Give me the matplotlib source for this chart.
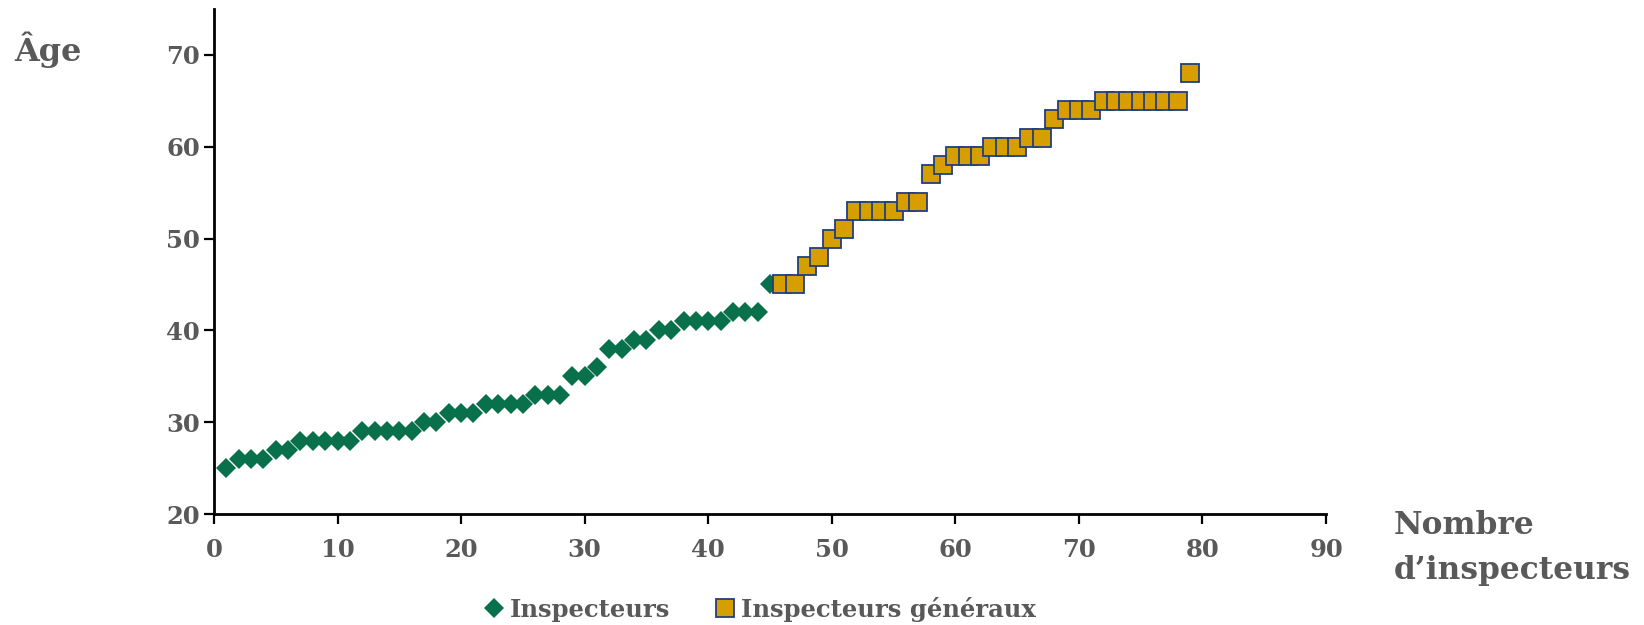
import numpy as np
import matplotlib
matplotlib.use("Agg")
import matplotlib.pyplot as plt

# Inspecteurs (rang, âge)
insp_x = list(range(1, 46))
insp_age = [25, 26, 26, 26, 27, 27, 28, 28, 28, 28, 28, 29, 29, 29, 29, 29,
            30, 30, 31, 31, 31, 32, 32, 32, 32, 33, 33, 33, 35, 35, 36, 38,
            38, 39, 39, 40, 40, 41, 41, 41, 41, 42, 42, 42, 45]

# Inspecteurs généraux
ig_x = list(range(46, 80))
ig_age = [45, 45, 47, 48, 50, 51, 53, 53, 53, 53, 54, 54, 57, 58, 59, 59, 59,
          60, 60, 60, 61, 61, 63, 64, 64, 64, 65, 65, 65, 65, 65, 65, 65, 68]

xticks = list(range(0, 100, 10))
yticks = list(range(20, 80, 10))

grey = "#595959"
green = "#08704A"
gold = "#D79E00"
navy = "#1F3F7F"

plt.rcParams['font.family'] = ['DejaVu Serif']
plt.rcParams['font.weight'] = 'bold'

fig = plt.figure(figsize=(16.44, 6.25), dpi=100)
ax = fig.add_axes([214 / 1644, 1 - 514 / 625, (1326 - 214) / 1644, (514 - 9) / 625])

ax.plot(insp_x, insp_age, linestyle='none', marker='D', markersize=10.3,
        color=green, markeredgewidth=0, label='Inspecteurs', zorder=3)
ax.plot(ig_x, ig_age, linestyle='none', marker='s', markersize=13,
        markerfacecolor=gold, markeredgecolor=navy, markeredgewidth=1.3,
        label='Inspecteurs généraux', zorder=4)

ax.set_xlim(0, 90)
ax.set_ylim(20, 75)
ax.set_xticks(xticks)
ax.set_yticks(yticks)
for s in ['top', 'right']:
    ax.spines[s].set_visible(False)
for s in ['left', 'bottom']:
    ax.spines[s].set_linewidth(2)
ax.tick_params(axis='both', direction='out', length=7, width=1.6,
               labelsize=17.5, labelcolor=grey)
ax.tick_params(axis='x', pad=10)
ax.tick_params(axis='y', pad=3)
for lbl in ax.get_xticklabels() + ax.get_yticklabels():
    lbl.set_fontweight('bold')

fig.text(14 / 1644, 1 - 50 / 625, 'Âge', fontsize=23, fontweight='bold',
         color=grey, ha='left', va='center')
fig.text(1394 / 1644, 1 - 548 / 625, 'Nombre\nd\u2019inspecteurs', fontsize=22.5,
         fontweight='bold', color=grey, ha='left', va='center', linespacing=1.62)

fig.legend(loc='center', bbox_to_anchor=(758 / 1644, 1 - 609 / 625), ncol=2,
           frameon=False, fontsize=17.5, labelcolor=grey, handletextpad=0.1,
           columnspacing=1.7, markerscale=0.95, handlelength=1.1)

fig.savefig('out.png', dpi=100)
